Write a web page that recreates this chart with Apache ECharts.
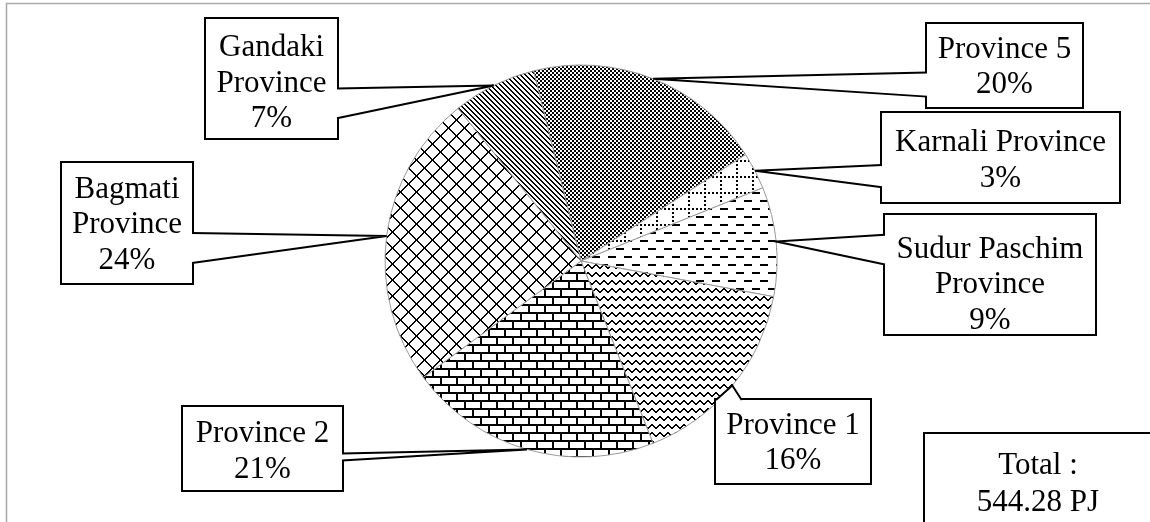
<!DOCTYPE html>
<html>
<head>
<meta charset="utf-8">
<script src="https://cdn.jsdelivr.net/npm/echarts@6/dist/echarts.min.js"></script>
<style>
  html, body { margin: 0; padding: 0; background: #ffffff; }
  #chart { width: 1150px; height: 522px; }
</style>
</head>
<body>
<div id="chart"></div>
<script>
// Provincial energy consumption (PJ), clockwise from Province 5
const provinces = ['Province 5', 'Karnali Province', 'Sudur Paschim Province', 'Province 1', 'Province 2', 'Bagmati Province', 'Gandaki Province'];
const energyPJ = [107.5, 16.6, 49.0, 87.6, 113.6, 132.4, 37.58];
// Text shown above the percentage in each callout
const calloutNames = ['Province 5', 'Karnali Province', 'Sudur Paschim\nProvince', 'Province 1', 'Province 2', 'Bagmati\nProvince', 'Gandaki\nProvince'];
const totalCaption = 'Total :';
const totalUnit = 'PJ';

// Callout boxes: [left, top, width, height], side carrying the pointer,
// pointer base as fractions of that side, extra top padding for the text
const callouts = [
  { box: [927, 24, 155, 83],   side: 'left',  base: [7 / 12, 0.875],   shift: 0 },
  { box: [882, 113, 237, 89],  side: 'left',  base: [7 / 12, 10 / 12], shift: 1.5 },
  { box: [885, 215, 210, 119], side: 'left',  base: [2 / 12, 5 / 12],  shift: 9 },
  { box: [716, 400, 154, 83],  side: 'top',   base: [0, 2 / 12],       shift: 0 },
  { box: [183, 407, 159, 83],  side: 'right', base: [0.56, 0.645],     shift: 1.5 },
  { box: [62, 163, 130, 120],  side: 'right', base: [7 / 12, 10 / 12], shift: 0 },
  { box: [206, 19, 131, 119],  side: 'right', base: [7 / 12, 10 / 12], shift: 3.5 }
];

const FONT = '"Liberation Serif", "Times New Roman", serif';
const FONT_SIZE = 31;
const LINE_H = 35.5;

// ---- monochrome fill patterns ----
function tile(w, h, paint) {
  const c = document.createElement('canvas');
  c.width = w; c.height = h;
  const g = c.getContext('2d');
  g.fillStyle = '#ffffff';
  g.fillRect(0, 0, w, h);
  g.fillStyle = '#000000';
  const px = (x, y, a, b) => {
    const xx = ((x % w) + w) % w, yy = ((y % h) + h) % h;
    g.fillRect(xx, yy, a, b);
    if (xx + a > w) g.fillRect(xx - w, yy, a, b);
    if (yy + b > h) g.fillRect(xx, yy - h, a, b);
  };
  paint(px, w, h);
  return { image: c, repeat: 'repeat' };
}

const patterns = [
  // small checker board
  tile(4, 4, (px) => { px(0, 0, 2, 2); px(2, 2, 2, 2); }),
  // dotted grid
  tile(16, 16, (px) => {
    for (let i = 0; i < 16; i += 4) { px(i, 0, 2, 2); px(0, i, 2, 2); }
  }),
  // dashed horizontal
  tile(16, 16, (px) => { px(0, 0, 8, 2); px(8, 8, 8, 2); }),
  // zig zag
  tile(8, 8, (px) => {
    const ys = [3, 2, 1, 0, 0, 1, 2, 3];
    for (let x = 0; x < 8; x++) px(x, ys[x], 1, 2);
  }),
  // horizontal brick
  tile(16, 16, (px) => {
    px(0, 0, 16, 2); px(0, 0, 2, 8);
    px(0, 8, 16, 2); px(8, 8, 2, 8);
  }),
  // diagonal cross
  tile(16, 16, (px) => {
    for (let i = 0; i < 16; i++) { px(i, i, 2, 1); px(15 - i, i, 2, 1); }
  }),
  // downward diagonal stripes
  tile(5, 5, (px) => {
    for (let i = 0; i < 5; i++) px(i, i, 2, 1);
  })
];

const chart = echarts.init(document.getElementById('chart'), null, { renderer: 'canvas' });

const seriesData = provinces.map((name, i) => {
  const c = callouts[i];
  const b = c.box;
  const lines = calloutNames[i].split('\n').length + 1;
  const padTop = Math.round((b[3] - lines * LINE_H) / 2) + 2 + c.shift;
  const padBottom = Math.max(0, b[3] - lines * LINE_H - padTop);
  return {
    name: name,
    value: energyPJ[i],
    itemStyle: { color: patterns[i] },
    label: { width: b[2], height: b[3] - padTop - padBottom, padding: [padTop, 0, padBottom, 0] }
  };
});

const total = energyPJ.reduce((s, v) => s + v, 0);

function staticGraphics() {
  return [
    {
      id: 'frame', type: 'rect', silent: true, z: 0,
      shape: { x: 6.5, y: 3.5, width: 2000, height: 2000 },
      style: { fill: 'none', stroke: '#a8a8a8', lineWidth: 1.5 }
    },
    {
      id: 'totalBox', type: 'rect', silent: true, z: 10,
      shape: { x: 924, y: 433, width: 400, height: 200 },
      style: { fill: '#ffffff', stroke: '#000000', lineWidth: 2 }
    },
    {
      id: 'totalText', type: 'text', silent: true, z: 11,
      x: 1038, y: 447,
      style: {
        text: totalCaption + '\n' + total.toFixed(2) + ' ' + totalUnit,
        font: FONT_SIZE + 'px ' + FONT, lineHeight: 37,
        fill: '#000000', align: 'center', verticalAlign: 'top'
      }
    }
  ];
}

chart.setOption({
  animation: false,
  backgroundColor: '#ffffff',
  graphic: { elements: staticGraphics() },
  series: [{
    type: 'pie',
    silent: true,
    center: [581, 261],
    radius: 196,
    startAngle: 104,
    clockwise: true,
    avoidLabelOverlap: false,
    itemStyle: { borderColor: '#9a9a9a', borderWidth: 1 },
    emphasis: { disabled: true },
    labelLine: { show: false },
    label: {
      show: true,
      position: 'outside',
      color: '#000000',
      fontFamily: FONT,
      fontSize: FONT_SIZE,
      lineHeight: LINE_H,
      align: 'center',
      verticalAlign: 'top',
      backgroundColor: '#ffffff',
      borderColor: '#000000',
      borderWidth: 2,
      formatter: (p) => calloutNames[p.dataIndex] + '\n' + Math.round(p.percent) + '%'
    },
    labelLayout: (p) => {
      const b = callouts[p.dataIndex].box;
      return { x: b[0] + b[2] / 2, y: b[1], align: 'center', verticalAlign: 'top' };
    },
    data: seriesData
  }]
});

// Callout pointers: from the box side to the outer edge of each slice at its mid angle
function pointerGraphics() {
  const data = chart.getModel().getSeriesByIndex(0).getData();
  const els = [];
  callouts.forEach((c, i) => {
    const L = data.getItemLayout(i);
    if (!L) return;
    const mid = (L.startAngle + L.endAngle) / 2;
    const tip = [L.cx + L.r * Math.cos(mid), L.cy + L.r * Math.sin(mid)];
    const [x, y, w, h] = c.box;
    let p1, p2, n;
    if (c.side === 'left')   { p1 = [x, y + h * c.base[0]]; p2 = [x, y + h * c.base[1]]; n = [2.5, 0]; }
    if (c.side === 'right')  { p1 = [x + w, y + h * c.base[0]]; p2 = [x + w, y + h * c.base[1]]; n = [-2.5, 0]; }
    if (c.side === 'top')    { p1 = [x + w * c.base[0], y]; p2 = [x + w * c.base[1], y]; n = [0, 2.5]; }
    if (c.side === 'bottom') { p1 = [x + w * c.base[0], y + h]; p2 = [x + w * c.base[1], y + h]; n = [0, -2.5]; }
    els.push({
      id: 'wedgeFill' + i, type: 'polygon', silent: true, z: 100,
      shape: { points: [[p1[0] + n[0], p1[1] + n[1]], p1, tip, p2, [p2[0] + n[0], p2[1] + n[1]]] },
      style: { fill: '#ffffff', stroke: null }
    });
    els.push({
      id: 'wedgeLine' + i, type: 'polyline', silent: true, z: 101,
      shape: { points: [p1, tip, p2] },
      style: { fill: null, stroke: '#000000', lineWidth: 2, lineJoin: 'miter' }
    });
  });
  return els;
}

chart.setOption({ graphic: { elements: staticGraphics().concat(pointerGraphics()) } });
</script>
</body>
</html>
